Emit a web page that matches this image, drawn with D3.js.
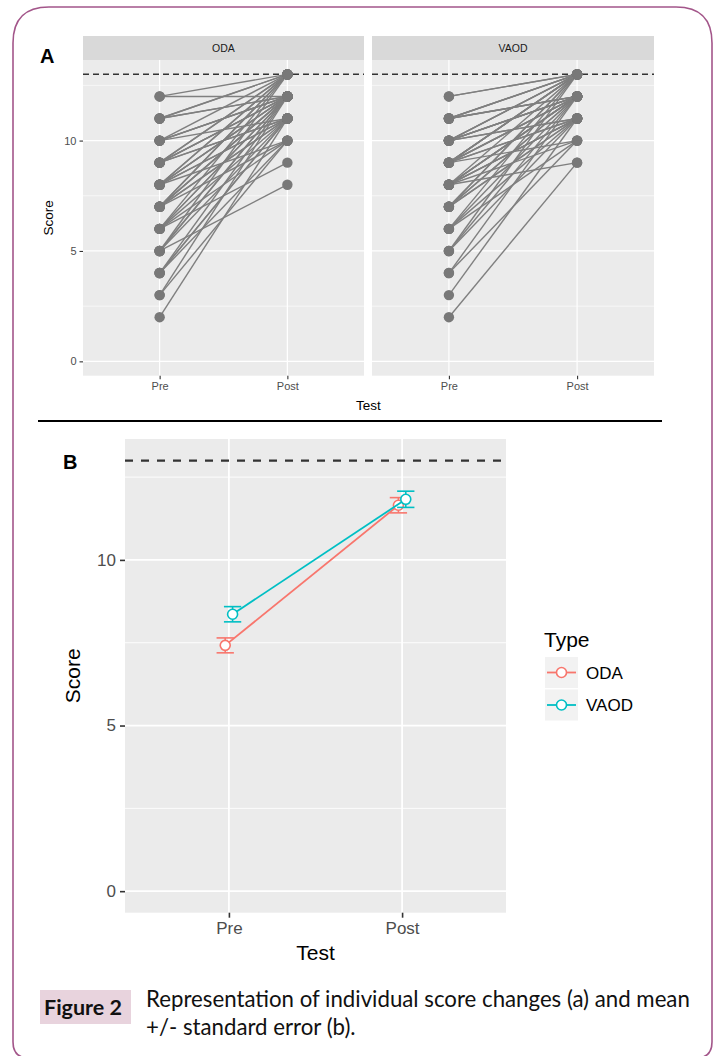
<!DOCTYPE html>
<html>
<head>
<meta charset="utf-8">
<script src="https://cdn.jsdelivr.net/npm/d3@7"></script>
<style>
  html, body { margin: 0; padding: 0; background: #fff; }
  svg { display: block; }
</style>
</head>
<body>
<svg id="chart" width="717" height="1056"></svg>
<script>
// ---------------- DATA ----------------
const tests = ["Pre", "Post"];
const types = ["ODA", "VAOD"];
const yTicks = [0, 5, 10];
const yMinorTicks = [2.5, 7.5, 12.5];
const maxScore = 13;

// Panel A: individual scores (paired Pre -> Post)
const odaPre  = [2,3,3,4,4,4,5,5,5,5,6,6,6,6,7,7,7,7,7,7,8,8,8,8,8,8,9,9,9,9,9,10,10,10,10,11,11,11,12,12,
                 6,7,7,8,8,5,9,6,9,10,4,11];
const odaPost = [11,10,12,10,11,12,8,11,12,13,9,11,12,13,10,11,12,12,13,13,10,11,11,12,13,13,11,12,12,13,13,11,12,12,13,12,13,13,12,13,
                 12,11,12,12,12,12,11,10,12,12,11,12];
const vaodPre  = [2,3,4,4,5,5,6,6,6,7,7,7,7,8,8,8,8,8,8,8,8,9,9,9,9,9,9,9,10,10,10,10,10,10,10,11,11,11,11,11,12,12,
                  7,8,9,8,6,10,9,7,5,11,10,9];
const vaodPost = [9,11,10,12,11,13,10,12,13,11,12,13,13,9,10,11,11,12,12,12,13,10,11,12,12,13,13,13,11,11,12,12,13,13,13,12,12,13,13,13,13,13,
                  12,12,12,11,11,12,11,11,12,12,12,13];

// Panel B: mean +/- standard error
const odaMean  = [7.42, 11.65];
const odaSE    = [0.225, 0.23];
const vaodMean = [8.36, 11.83];
const vaodSE   = [0.23, 0.245];

const typeColors = ["#F8766D", "#00BFC4"];

// ---------------- DRAW ----------------
const svg = d3.select("#chart");
const FONT = "'Liberation Sans', Arial, Helvetica, sans-serif";

// outer rounded border
(function border(){
  const l = 13, t = 7, r = 712, b = 1058, rt = 36, rb = 16;
  const p = `M${l},${b-rb} L${l},${t+rt} Q${l},${t} ${l+rt},${t} L${r-rt},${t} Q${r},${t} ${r},${t+rt} L${r},${b-rb} Q${r},${b} ${r-rb},${b} L${l+rb},${b} Q${l},${b} ${l},${b-rb}`;
  svg.append("path").attr("d", p).attr("fill", "none").attr("stroke", "#a3568a").attr("stroke-width", 1.6);
})();

// ========== PANEL A ==========
const A = { top: 60, bottom: 375.7, stripTop: 36 };
const facets = [
  { name: "ODA",  x0: 83,  x1: 364, pre: odaPre,  post: odaPost },
  { name: "VAOD", x0: 372, x1: 654, pre: vaodPre, post: vaodPost }
];
const yA = d3.scaleLinear().domain([-0.65, 13.65]).range([A.bottom, A.top]);

facets.forEach((f, fi) => {
  const x = d3.scalePoint().domain(tests).range([f.x0, f.x1]).padding(0.6);
  const g = svg.append("g");
  g.append("rect").attr("x", f.x0).attr("y", A.stripTop).attr("width", f.x1 - f.x0).attr("height", A.top - A.stripTop).attr("fill", "#d9d9d9");
  g.append("text").attr("x", (f.x0 + f.x1) / 2).attr("y", (A.stripTop + A.top) / 2 + 4)
    .attr("text-anchor", "middle").attr("font-family", FONT).attr("font-size", 10.5).attr("fill", "#1a1a1a").text(f.name);
  g.append("rect").attr("x", f.x0).attr("y", A.top).attr("width", f.x1 - f.x0).attr("height", A.bottom - A.top).attr("fill", "#ebebeb");
  g.selectAll(".minor").data(yMinorTicks).enter().append("line")
    .attr("x1", f.x0).attr("x2", f.x1).attr("y1", d => yA(d)).attr("y2", d => yA(d))
    .attr("stroke", "#fff").attr("stroke-width", 0.6);
  g.selectAll(".major").data(yTicks).enter().append("line")
    .attr("x1", f.x0).attr("x2", f.x1).attr("y1", d => yA(d)).attr("y2", d => yA(d))
    .attr("stroke", "#fff").attr("stroke-width", 1.2);
  g.selectAll(".vx").data(tests).enter().append("line")
    .attr("x1", d => x(d)).attr("x2", d => x(d)).attr("y1", A.top).attr("y2", A.bottom)
    .attr("stroke", "#fff").attr("stroke-width", 1.2);
  g.append("line").attr("x1", f.x0).attr("x2", f.x1).attr("y1", yA(maxScore)).attr("y2", yA(maxScore))
    .attr("stroke", "#333").attr("stroke-width", 1.5).attr("stroke-dasharray", "6,4");
  const pairs = f.pre.map((v, i) => [v, f.post[i]]);
  g.selectAll(".seg").data(pairs).enter().append("line")
    .attr("x1", x("Pre")).attr("x2", x("Post"))
    .attr("y1", d => yA(d[0])).attr("y2", d => yA(d[1]))
    .attr("stroke", "#7f7f7f").attr("stroke-width", 1.4);
  const pts = [];
  pairs.forEach(d => { pts.push(["Pre", d[0]]); pts.push(["Post", d[1]]); });
  g.selectAll(".pt").data(pts).enter().append("circle")
    .attr("cx", d => x(d[0])).attr("cy", d => yA(d[1])).attr("r", 5.2).attr("fill", "#787878");
  const xa = g.append("g").attr("transform", `translate(0,${A.bottom})`)
    .call(d3.axisBottom(x).tickSize(3.5).tickPadding(3));
  xa.select(".domain").remove();
  xa.selectAll("line").attr("stroke", "#333").attr("stroke-width", 1.1);
  xa.selectAll("text").attr("font-family", FONT).attr("font-size", 11).attr("fill", "#4d4d4d");
  if (fi === 0) {
    const ya = g.append("g").attr("transform", `translate(${f.x0},0)`)
      .call(d3.axisLeft(yA).tickValues(yTicks).tickSize(3.5).tickPadding(3));
    ya.select(".domain").remove();
    ya.selectAll("line").attr("stroke", "#333").attr("stroke-width", 1.1);
    ya.selectAll("text").attr("font-family", FONT).attr("font-size", 11).attr("fill", "#4d4d4d");
  }
});
svg.append("text").attr("x", (83 + 654) / 2).attr("y", 410).attr("text-anchor", "middle")
  .attr("font-family", FONT).attr("font-size", 13.5).attr("fill", "#000").text("Test");
svg.append("text").attr("transform", `translate(53,${(A.top + A.bottom) / 2}) rotate(-90)`).attr("text-anchor", "middle")
  .attr("font-family", FONT).attr("font-size", 13.5).attr("fill", "#000").text("Score");
svg.append("text").attr("x", 40).attr("y", 63).attr("font-family", FONT).attr("font-weight", "bold")
  .attr("font-size", 20).attr("fill", "#000").text("A");

// separator
svg.append("line").attr("x1", 38).attr("x2", 662).attr("y1", 421).attr("y2", 421).attr("stroke", "#000").attr("stroke-width", 2);

// ========== PANEL B ==========
const B = { x0: 125, x1: 506, top: 439, bottom: 912.7 };
const xB = d3.scalePoint().domain(tests).range([B.x0, B.x1]).padding(0.6);
const yB = d3.scaleLinear().domain([-0.65, 13.65]).range([B.bottom, B.top]);
const step = xB.step();
const dodgeWidth = 0.085, errWidth = 0.1;
const gB = svg.append("g");
gB.append("rect").attr("x", B.x0).attr("y", B.top).attr("width", B.x1 - B.x0).attr("height", B.bottom - B.top).attr("fill", "#ebebeb");
gB.selectAll(".minor").data(yMinorTicks).enter().append("line")
  .attr("x1", B.x0).attr("x2", B.x1).attr("y1", d => yB(d)).attr("y2", d => yB(d))
  .attr("stroke", "#fff").attr("stroke-width", 0.9);
gB.selectAll(".major").data(yTicks).enter().append("line")
  .attr("x1", B.x0).attr("x2", B.x1).attr("y1", d => yB(d)).attr("y2", d => yB(d))
  .attr("stroke", "#fff").attr("stroke-width", 1.8);
gB.selectAll(".vx").data(tests).enter().append("line")
  .attr("x1", d => xB(d)).attr("x2", d => xB(d)).attr("y1", B.top).attr("y2", B.bottom)
  .attr("stroke", "#fff").attr("stroke-width", 1.8);
gB.append("line").attr("x1", B.x0).attr("x2", B.x1).attr("y1", yB(maxScore)).attr("y2", yB(maxScore))
  .attr("stroke", "#333").attr("stroke-width", 2.2).attr("stroke-dasharray", "8,8");

const series = [
  { name: types[0], mean: odaMean,  se: odaSE,  color: typeColors[0], off: -dodgeWidth / 4 },
  { name: types[1], mean: vaodMean, se: vaodSE, color: typeColors[1], off:  dodgeWidth / 4 }
];
const xd = (t, s) => xB(t) + s.off * step;
series.forEach(s => {
  const g = gB.append("g");
  const pts = tests.map((t, i) => ({ t, m: s.mean[i], e: s.se[i] }));
  g.append("path").datum(pts)
    .attr("d", d3.line().x(d => xd(d.t, s)).y(d => yB(d.m)))
    .attr("fill", "none").attr("stroke", s.color).attr("stroke-width", 1.8);
  const hw = errWidth / 2 * step;
  pts.forEach(d => {
    const cx = xd(d.t, s);
    g.append("line").attr("x1", cx).attr("x2", cx).attr("y1", yB(d.m - d.e)).attr("y2", yB(d.m + d.e)).attr("stroke", s.color).attr("stroke-width", 1.6);
    g.append("line").attr("x1", cx - hw).attr("x2", cx + hw).attr("y1", yB(d.m - d.e)).attr("y2", yB(d.m - d.e)).attr("stroke", s.color).attr("stroke-width", 1.6);
    g.append("line").attr("x1", cx - hw).attr("x2", cx + hw).attr("y1", yB(d.m + d.e)).attr("y2", yB(d.m + d.e)).attr("stroke", s.color).attr("stroke-width", 1.6);
  });
  g.selectAll("circle").data(pts).enter().append("circle")
    .attr("cx", d => xd(d.t, s)).attr("cy", d => yB(d.m)).attr("r", 5)
    .attr("fill", "#fff").attr("stroke", s.color).attr("stroke-width", 1.6);
});
const xaB = gB.append("g").attr("transform", `translate(0,${B.bottom})`).call(d3.axisBottom(xB).tickSize(5).tickPadding(4));
xaB.select(".domain").remove();
xaB.selectAll("line").attr("stroke", "#333").attr("stroke-width", 1.6);
xaB.selectAll("text").attr("font-family", FONT).attr("font-size", 17).attr("fill", "#4d4d4d");
const yaB = gB.append("g").attr("transform", `translate(${B.x0},0)`).call(d3.axisLeft(yB).tickValues(yTicks).tickSize(5).tickPadding(4));
yaB.select(".domain").remove();
yaB.selectAll("line").attr("stroke", "#333").attr("stroke-width", 1.6);
yaB.selectAll("text").attr("font-family", FONT).attr("font-size", 17).attr("fill", "#4d4d4d");

svg.append("text").attr("x", (B.x0 + B.x1) / 2).attr("y", 960).attr("text-anchor", "middle")
  .attr("font-family", FONT).attr("font-size", 21).attr("fill", "#000").text("Test");
svg.append("text").attr("transform", `translate(80,${(B.top + B.bottom) / 2}) rotate(-90)`).attr("text-anchor", "middle")
  .attr("font-family", FONT).attr("font-size", 21).attr("fill", "#000").text("Score");
svg.append("text").attr("x", 63).attr("y", 469).attr("font-family", FONT).attr("font-weight", "bold")
  .attr("font-size", 20).attr("fill", "#000").text("B");

// legend
const lg = svg.append("g").attr("transform", "translate(545,0)");
lg.append("text").attr("x", -1).attr("y", 647).attr("font-family", FONT).attr("font-size", 21).attr("fill", "#000").text("Type");
series.forEach((s, i) => {
  const ky = 657 + i * 32.5;
  lg.append("rect").attr("x", 0).attr("y", ky).attr("width", 33).attr("height", 31).attr("fill", "#f2f2f2");
  lg.append("line").attr("x1", 2).attr("x2", 31).attr("y1", ky + 15.5).attr("y2", ky + 15.5).attr("stroke", s.color).attr("stroke-width", 1.8);
  lg.append("circle").attr("cx", 16.5).attr("cy", ky + 15.5).attr("r", 5).attr("fill", "#fff").attr("stroke", s.color).attr("stroke-width", 1.6);
  lg.append("text").attr("x", 41).attr("y", ky + 21.5).attr("font-family", FONT).attr("font-size", 17).attr("fill", "#000").text(s.name);
});

// caption
const CAP = "Lato, 'Open Sans', sans-serif";
svg.append("rect").attr("x", 40).attr("y", 990).attr("width", 91).attr("height", 34).attr("fill", "#e8d3dd");
const fig = svg.append("text").attr("x", 44).attr("y", 1015).attr("font-family", CAP).attr("font-weight", "bold")
  .attr("font-size", 19).attr("fill", "#111").text("Figure 2");
const l1 = svg.append("text").attr("x", 146).attr("y", 1007).attr("font-family", CAP)
  .attr("font-size", 19).attr("fill", "#111").text("Representation of individual score changes (a) and mean");
const l2 = svg.append("text").attr("x", 146).attr("y", 1035).attr("font-family", CAP)
  .attr("font-size", 19).attr("fill", "#111").text("+/- standard error (b).");
(function fit(){
  const w1 = l1.node().getComputedTextLength();
  const fs = 19 * 544 / w1;
  l1.attr("font-size", fs); l2.attr("font-size", fs);
  const wf = fig.node().getComputedTextLength();
  fig.attr("font-size", 19 * 78 / wf);
})();
</script>
</body>
</html>
